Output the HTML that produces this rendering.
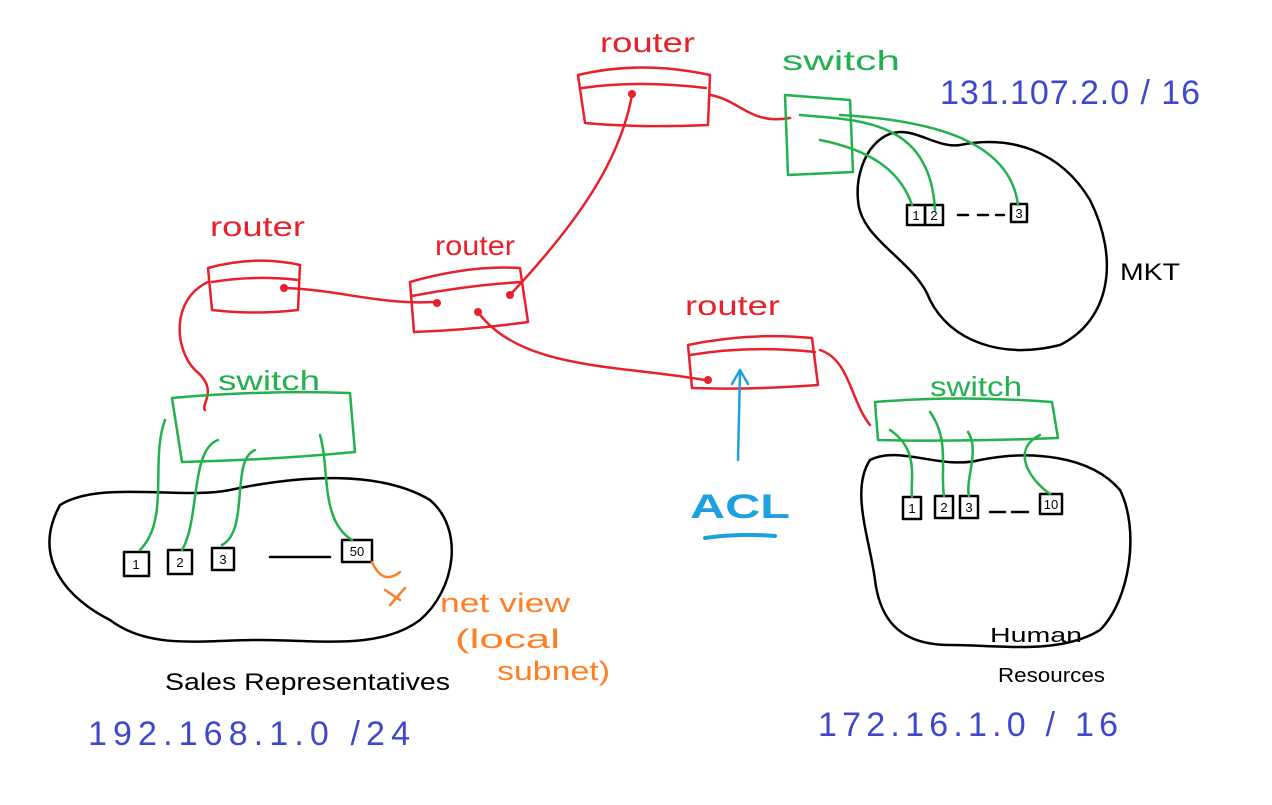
<!DOCTYPE html>
<html><head><meta charset="utf-8"><style>
html,body{margin:0;padding:0;background:#fff;width:1272px;height:805px;overflow:hidden}
svg text{font-family:"Liberation Sans",sans-serif}
</style></head><body>
<svg width="1272" height="805" viewBox="0 0 1272 805" xmlns="http://www.w3.org/2000/svg" fill="none" stroke-linecap="round" stroke-linejoin="round">
<g stroke="#000" stroke-width="2.5">
<path d="M60,505 C100,480 180,500 230,490 C300,475 380,470 430,500 C465,530 455,590 420,620 C380,650 320,640 260,640 C200,640 150,650 110,620 C70,600 30,560 60,505 Z"/>
<path d="M870,150 C900,110 930,150 960,145 C1010,135 1060,150 1090,200 C1120,260 1110,320 1060,345 C1000,360 950,340 930,300 C915,260 860,240 858,200 C856,180 862,162 870,150 Z"/>
<path d="M870,460 C900,445 940,470 980,460 C1030,450 1090,455 1120,490 C1140,530 1130,600 1100,630 C1060,655 1000,645 950,645 C900,645 880,620 875,580 C870,540 850,490 870,460 Z"/>
<rect x="124" y="552" width="25" height="24"/><rect x="168" y="550" width="24" height="24"/><rect x="212" y="548" width="22" height="22"/><rect x="342" y="540" width="30" height="22"/>
<path d="M270,557 H330"/>
<rect x="907" y="205" width="18" height="20"/><rect x="925" y="205" width="18" height="20"/><rect x="1011" y="204" width="16" height="18"/>
<path d="M958,215 H968 M978,215 H988 M996,215 H1004"/>
<rect x="903" y="497" width="18" height="22"/><rect x="935" y="496" width="18" height="22"/><rect x="960" y="496" width="18" height="22"/><rect x="1040" y="494" width="22" height="20"/>
<path d="M990,512 H1005 M1012,512 H1028"/>
</g>
<g font-size="13" fill="#000" text-anchor="middle"><text x="136" y="569">1</text><text x="180" y="567">2</text><text x="223" y="564">3</text><text x="357" y="556">50</text><text x="916" y="220">1</text><text x="934" y="220">2</text><text x="1019" y="218">3</text><text x="912" y="513">1</text><text x="944" y="512">2</text><text x="969" y="512">3</text><text x="1051" y="509">10</text></g>
<g stroke="#e8202a" stroke-width="2.5">
<path d="M578,75 Q640,60 710,75 L708,125 Q640,128 585,123 Z M582,88 Q640,80 706,88"/>
<path d="M208,268 Q255,255 300,265 L298,310 Q255,315 212,310 Z M212,282 Q255,275 298,280"/>
<path d="M410,282 Q470,265 520,268 L528,322 Q470,330 414,332 Z M412,296 Q470,285 522,282"/>
<path d="M688,345 Q750,332 812,338 L818,385 Q750,390 692,388 Z M690,355 Q750,345 815,352"/>
<path d="M632,95 C620,160 580,220 510,295"/>
<path d="M710,95 C740,100 750,125 790,118"/>
<path d="M285,288 C340,290 380,305 435,302"/>
<path d="M208,282 C170,300 175,350 195,370 C220,390 200,405 205,410"/>
<path d="M478,312 C520,370 620,365 705,380"/>
<path d="M820,350 C850,360 850,400 870,425"/>
</g>
<g fill="#e8202a"><circle cx="632" cy="94" r="4"/><circle cx="284" cy="288" r="4"/><circle cx="437" cy="303" r="4"/><circle cx="478" cy="312" r="4"/><circle cx="510" cy="295" r="4"/><circle cx="708" cy="380" r="4"/></g>
<g fill="#e8202a" font-size="28"><text x="600" y="52" textLength="95" lengthAdjust="spacingAndGlyphs">router</text><text x="210" y="236" textLength="95" lengthAdjust="spacingAndGlyphs">router</text><text x="435" y="255" textLength="80" lengthAdjust="spacingAndGlyphs">router</text><text x="685" y="315" textLength="95" lengthAdjust="spacingAndGlyphs">router</text></g>
<g stroke="#22b14c" stroke-width="2.5">
<path d="M785,95 L850,100 L853,172 L788,175 Z"/>
<path d="M172,398 Q260,390 350,393 L355,452 Q270,460 182,462 Z"/>
<path d="M875,402 Q960,395 1052,402 L1058,438 Q960,442 878,440 Z"/>
<path d="M800,115 C860,120 930,120 935,210"/>
<path d="M820,140 C870,150 900,170 912,205"/>
<path d="M840,115 C930,120 1010,140 1018,205"/>
<path d="M165,420 C150,460 170,520 140,550"/>
<path d="M218,440 C190,450 200,520 182,550"/>
<path d="M255,450 C230,460 250,530 222,545"/>
<path d="M320,435 C330,470 320,520 352,540"/>
<path d="M890,430 C920,450 910,480 912,497"/>
<path d="M930,412 C950,440 940,470 944,496"/>
<path d="M968,432 C980,450 965,480 969,496"/>
<path d="M1040,435 C1010,450 1030,480 1050,494"/>
</g>
<g fill="#22b14c" font-size="28"><text x="782" y="70" textLength="118" lengthAdjust="spacingAndGlyphs">switch</text><text x="218" y="390" textLength="102" lengthAdjust="spacingAndGlyphs">switch</text><text x="930" y="396" textLength="92" lengthAdjust="spacingAndGlyphs">switch</text></g>
<g stroke="#1ca0e0" stroke-width="2.5"><path d="M738,460 L740,372 M732,384 L740,370 L748,384"/><path d="M705,538 Q740,533 775,536" stroke-width="4"/></g>
<text x="690" y="518" fill="#1ca0e0" font-size="34" font-weight="bold" textLength="100" lengthAdjust="spacingAndGlyphs">ACL</text>
<g stroke="#ff7f27" stroke-width="2.5"><path d="M372,562 C380,580 390,580 400,572 M385,590 L400,600 M390,605 L405,588"/></g>
<g fill="#ff7f27" font-size="27"><text x="440" y="612" textLength="130" lengthAdjust="spacingAndGlyphs">net view</text><text x="455" y="648" textLength="105" lengthAdjust="spacingAndGlyphs">(local</text><text x="497" y="680" textLength="113" lengthAdjust="spacingAndGlyphs">subnet)</text></g>
<g fill="#000" font-size="24"><text x="1120" y="280" textLength="60" lengthAdjust="spacingAndGlyphs">MKT</text><text x="165" y="690" textLength="285" lengthAdjust="spacingAndGlyphs">Sales Representatives</text><text x="990" y="642" font-size="20" textLength="92" lengthAdjust="spacingAndGlyphs">Human</text><text x="998" y="682" font-size="20" textLength="107" lengthAdjust="spacingAndGlyphs">Resources</text></g>
<g fill="#3f48cc" font-size="34"><text x="940" y="104" textLength="260" lengthAdjust="spacing">131.107.2.0 / 16</text><text x="88" y="745" textLength="322" lengthAdjust="spacing">192.168.1.0 /24</text><text x="818" y="736" textLength="300" lengthAdjust="spacing">172.16.1.0 / 16</text></g>
</svg>
</body></html>
